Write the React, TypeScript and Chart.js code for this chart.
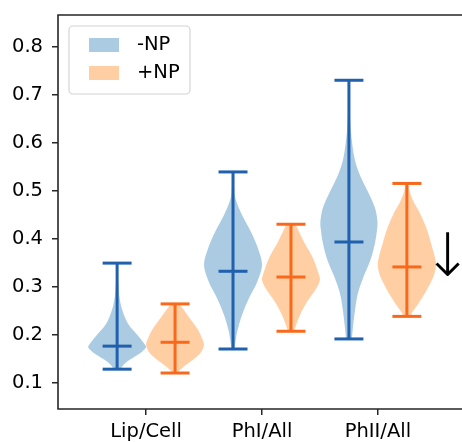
import React, { useEffect, useRef } from "react";
import { Chart, registerables } from "chart.js";

Chart.register(...registerables);

// Categories and series
const categories = ["Lip/Cell", "PhI/All", "PhII/All"];
const seriesLabels = ["-NP", "+NP"];
const yTickValues = [0.1, 0.2, 0.3, 0.4, 0.5, 0.6, 0.7, 0.8];

// Extremes and medians per category
const minusNpMin = [0.129, 0.171, 0.192];
const minusNpMedian = [0.177, 0.333, 0.394];
const minusNpMax = [0.35, 0.54, 0.731];

const plusNpMin = [0.121, 0.208, 0.239];
const plusNpMedian = [0.185, 0.321, 0.342];
const plusNpMax = [0.265, 0.431, 0.516];

// Density profiles: [value, relative width (1 = widest)], ascending in value
type Profile = [number, number][];

const minusNpLipCell: Profile = [
  [0.129, 0.12], [0.135, 0.18], [0.145, 0.35], [0.155, 0.6], [0.165, 0.85],
  [0.175, 1.0], [0.185, 0.9], [0.2, 0.7], [0.22, 0.42], [0.24, 0.25],
  [0.26, 0.14], [0.28, 0.08], [0.3, 0.05], [0.32, 0.03], [0.35, 0.02],
];
const minusNpPhI: Profile = [
  [0.171, 0.05], [0.179, 0.07], [0.206, 0.14], [0.242, 0.31], [0.277, 0.55],
  [0.31, 0.83], [0.346, 1.0], [0.381, 0.86], [0.415, 0.62], [0.45, 0.31],
  [0.485, 0.08], [0.51, 0.04], [0.54, 0.03],
];
const minusNpPhII: Profile = [
  [0.192, 0.1], [0.217, 0.14], [0.252, 0.21], [0.287, 0.31], [0.321, 0.5],
  [0.356, 0.74], [0.392, 0.9], [0.425, 0.98], [0.44, 0.98], [0.465, 0.9],
  [0.498, 0.66], [0.533, 0.38], [0.569, 0.19], [0.623, 0.07], [0.669, 0.03],
  [0.731, 0.02],
];

const plusNpLipCell: Profile = [
  [0.121, 0.08], [0.13, 0.22], [0.14, 0.42], [0.15, 0.65], [0.165, 0.9],
  [0.18, 1.0], [0.195, 0.92], [0.21, 0.8], [0.225, 0.63], [0.24, 0.45],
  [0.255, 0.27], [0.265, 0.12],
];
const plusNpPhI: Profile = [
  [0.208, 0.1], [0.215, 0.14], [0.242, 0.31], [0.269, 0.55], [0.298, 0.88],
  [0.315, 1.0], [0.325, 0.97], [0.36, 0.76], [0.394, 0.45], [0.425, 0.2],
  [0.431, 0.15],
];
const plusNpPhII: Profile = [
  [0.239, 0.12], [0.246, 0.17], [0.267, 0.41], [0.287, 0.62], [0.321, 0.91],
  [0.342, 1.0], [0.356, 0.99], [0.392, 0.83], [0.425, 0.66], [0.46, 0.4],
  [0.477, 0.24], [0.498, 0.1], [0.516, 0.04],
];

const minusNpProfiles = [minusNpLipCell, minusNpPhI, minusNpPhII];
const plusNpProfiles = [plusNpLipCell, plusNpPhI, plusNpPhII];

// Styling
const FONT = '"DejaVu Sans", sans-serif';
const FONT_SIZE = 19.5;
const BLUE_FILL = "rgba(31,119,180,0.38)";
const ORANGE_FILL = "rgba(255,127,14,0.38)";
const BLUE_LINE = "#2060ac";
const ORANGE_LINE = "#f8691c";
const SPINE = "#262626";

const GROUP_OFFSET = 0.25; // each series sits a quarter unit off the category
const HALF_WIDTH = 0.25; // widest half-width of a violin
const CAP_HALF = 0.125; // half-length of caps and median bars

type Pt = { x: number; y: number };

function outline(profile: Profile, pos: number): Pt[] {
  const right = profile.map(([y, w]) => ({ x: pos + w * HALF_WIDTH, y }));
  const left = profile
    .slice()
    .reverse()
    .map(([y, w]) => ({ x: pos - w * HALF_WIDTH, y }));
  return [...right, ...left];
}

function lineSet(data: Pt[], color: string) {
  return {
    data,
    showLine: true,
    borderColor: color,
    borderWidth: 3,
    pointRadius: 0,
    fill: false,
    tension: 0,
    order: 0,
    borderCapStyle: "butt" as const,
  };
}

function buildDatasets() {
  const sets: any[] = [];
  const series = [
    { mins: minusNpMin, meds: minusNpMedian, maxs: minusNpMax, profiles: minusNpProfiles, fill: BLUE_FILL, line: BLUE_LINE, off: -GROUP_OFFSET },
    { mins: plusNpMin, meds: plusNpMedian, maxs: plusNpMax, profiles: plusNpProfiles, fill: ORANGE_FILL, line: ORANGE_LINE, off: GROUP_OFFSET },
  ];
  series.forEach((s) => {
    categories.forEach((_, i) => {
      const pos = i + s.off;
      sets.push({
        data: outline(s.profiles[i], pos),
        showLine: true,
        borderWidth: 0,
        borderColor: "rgba(0,0,0,0)",
        backgroundColor: s.fill,
        pointRadius: 0,
        fill: "shape",
        tension: 0.3,
        order: 1,
      });
      sets.push(lineSet([{ x: pos, y: s.mins[i] }, { x: pos, y: s.maxs[i] }], s.line));
      sets.push(lineSet([{ x: pos - CAP_HALF, y: s.maxs[i] }, { x: pos + CAP_HALF, y: s.maxs[i] }], s.line));
      sets.push(lineSet([{ x: pos - CAP_HALF, y: s.mins[i] }, { x: pos + CAP_HALF, y: s.mins[i] }], s.line));
      sets.push(lineSet([{ x: pos - CAP_HALF, y: s.meds[i] }, { x: pos + CAP_HALF, y: s.meds[i] }], s.line));
    });
  });
  return sets;
}

// Axes frame (the right spine falls outside the visible area), in-plot legend and the trend arrow
const decorations = {
  id: "decorations",
  afterDatasetsDraw(chart: any) {
    const { ctx, chartArea: a, scales } = chart;
    ctx.save();
    ctx.strokeStyle = SPINE;
    ctx.lineWidth = 1.6;
    ctx.lineCap = "square";
    ctx.beginPath();
    ctx.moveTo(a.right, a.top);
    ctx.lineTo(a.left, a.top);
    ctx.lineTo(a.left, a.bottom);
    ctx.lineTo(a.right, a.bottom);
    ctx.stroke();

    const bx = a.left + 11;
    const by = a.top + 11;
    ctx.beginPath();
    ctx.roundRect(bx, by, 121, 68, 4);
    ctx.fillStyle = "rgba(255,255,255,0.8)";
    ctx.fill();
    ctx.strokeStyle = "#d4d4d4";
    ctx.lineWidth = 1.2;
    ctx.stroke();

    const fills = [BLUE_FILL, ORANGE_FILL];
    ctx.font = `${FONT_SIZE}px ${FONT}`;
    ctx.textBaseline = "middle";
    ctx.textAlign = "left";
    seriesLabels.forEach((label, i) => {
      const cy = by + 19 + i * 28;
      ctx.fillStyle = fills[i];
      ctx.fillRect(bx + 20, cy - 7, 30, 14);
      ctx.fillStyle = "#000";
      ctx.fillText(label, bx + 68, cy);
    });

    ctx.font = `200 60px ${FONT}`;
    ctx.textAlign = "center";
    ctx.fillStyle = "#000";
    ctx.fillText("\u2193", scales.x.getPixelForValue(2.6), scales.y.getPixelForValue(0.355));
    ctx.restore();
  },
};

export default function App() {
  const canvasRef = useRef<HTMLCanvasElement | null>(null);

  useEffect(() => {
    if (!canvasRef.current) return;
    const chart = new Chart(canvasRef.current, {
      type: "scatter",
      data: { datasets: buildDatasets() },
      options: {
        responsive: false,
        animation: false,
        events: [],
        layout: { padding: { top: 15, right: 14, left: 0, bottom: 0 } },
        plugins: {
          legend: { display: false },
          tooltip: { enabled: false },
        },
        scales: {
          x: {
            type: "linear",
            min: -0.76,
            max: 2.76,
            afterBuildTicks: (scale: any) => {
              scale.ticks = categories.map((_, i) => ({ value: i }));
            },
            afterFit: (scale: any) => {
              scale.height = 33;
              scale.paddingLeft = 0;
              scale.paddingRight = 0;
            },
            ticks: {
              callback: (v: any) => categories[Number(v)] ?? "",
              font: { family: FONT, size: FONT_SIZE },
              color: "#000",
              padding: 5,
              maxRotation: 0,
              autoSkip: false,
            },
            grid: { drawOnChartArea: false, drawTicks: true, tickLength: 6, tickColor: SPINE, lineWidth: 1.5 },
            border: { display: false },
          },
          y: {
            type: "linear",
            min: 0.046,
            max: 0.867,
            afterBuildTicks: (scale: any) => {
              scale.ticks = yTickValues.map((v) => ({ value: v }));
            },
            afterFit: (scale: any) => {
              scale.width = 58;
              scale.paddingTop = 0;
              scale.paddingBottom = 0;
            },
            ticks: {
              callback: (v: any) => Number(v).toFixed(1),
              font: { family: FONT, size: FONT_SIZE },
              color: "#000",
              padding: 9,
              autoSkip: false,
            },
            grid: { drawOnChartArea: false, drawTicks: true, tickLength: 6, tickColor: SPINE, lineWidth: 1.5 },
            border: { display: false },
          },
        },
      },
      plugins: [decorations],
    });
    return () => chart.destroy();
  }, []);

  return (
    <div style={{ position: "absolute", left: 0, top: 0, width: 462, height: 442, overflow: "hidden", background: "#fff" }}>
      <canvas ref={canvasRef} width={480} height={442} />
    </div>
  );
}
